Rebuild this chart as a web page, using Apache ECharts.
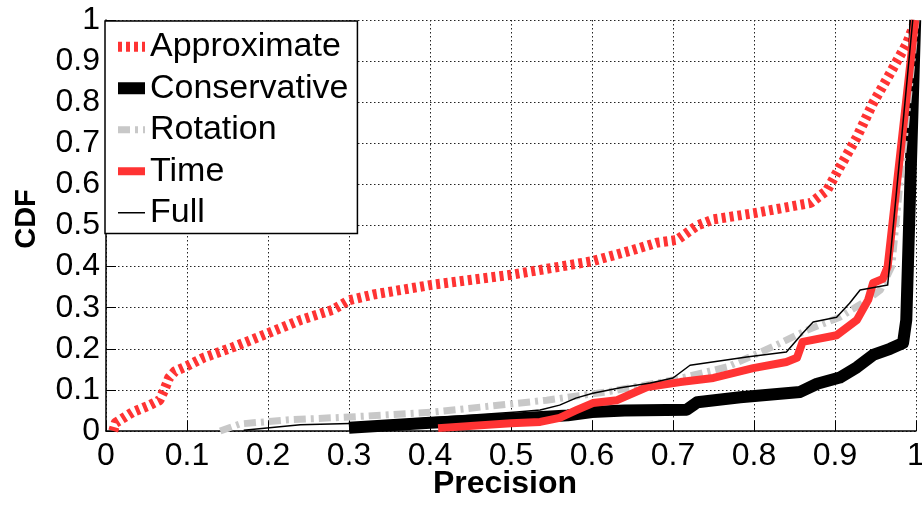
<!DOCTYPE html>
<html>
<head>
<meta charset="utf-8">
<script src="https://cdn.jsdelivr.net/npm/echarts@6/dist/echarts.min.js"></script>
<style>
  html, body { margin: 0; padding: 0; background: #fff; }
  #chart { width: 922px; height: 506px; }
</style>
</head>
<body>
<div id="chart"></div>
<script>
// [precision, cdf] pairs
var approximate = [[0.009, 0], [0.012, 0.02], [0.033, 0.046], [0.054, 0.063], [0.066, 0.075], [0.072, 0.1],
  [0.078, 0.13], [0.085, 0.145], [0.1, 0.158], [0.12, 0.178], [0.157, 0.204], [0.2, 0.238], [0.24, 0.27],
  [0.28, 0.295], [0.3, 0.318], [0.33, 0.332], [0.4, 0.355], [0.5, 0.38], [0.6, 0.413], [0.65, 0.44],
  [0.68, 0.458], [0.705, 0.465], [0.73, 0.5], [0.75, 0.515], [0.8, 0.53], [0.87, 0.555], [0.89, 0.585],
  [0.906, 0.642], [0.927, 0.715], [0.947, 0.798], [0.968, 0.87], [0.989, 0.944], [1, 1]];
var conservative = [[0.3, 0.008], [0.4, 0.02], [0.5, 0.03], [0.57, 0.038], [0.6, 0.046], [0.64, 0.05],
  [0.717, 0.052], [0.73, 0.07], [0.783, 0.082], [0.857, 0.095], [0.878, 0.115], [0.906, 0.13],
  [0.927, 0.155], [0.947, 0.185], [0.968, 0.2], [0.984, 0.214], [0.988, 0.27], [0.999, 1]];
var rotation = [[0.141, 0], [0.165, 0.017], [0.223, 0.027], [0.3, 0.034], [0.404, 0.046], [0.544, 0.075],
  [0.618, 0.095], [0.7, 0.124], [0.767, 0.156], [0.823, 0.205], [0.865, 0.245], [0.906, 0.277],
  [0.94, 0.319], [0.956, 0.343], [0.97, 0.4], [1, 1]];
var time = [[0.41, 0.007], [0.5, 0.019], [0.536, 0.022], [0.56, 0.032], [0.58, 0.05], [0.601, 0.068],
  [0.631, 0.075], [0.668, 0.107], [0.709, 0.119], [0.75, 0.129], [0.799, 0.153], [0.84, 0.168],
  [0.853, 0.178], [0.86, 0.217], [0.902, 0.233], [0.927, 0.27], [0.941, 0.319], [0.947, 0.36],
  [0.959, 0.37], [0.965, 0.4], [0.999, 1]];
var full = [[0.17, 0.002], [0.24, 0.015], [0.314, 0.019], [0.404, 0.032], [0.507, 0.046], [0.536, 0.051],
  [0.56, 0.063], [0.58, 0.08], [0.601, 0.092], [0.635, 0.105], [0.672, 0.117], [0.7, 0.129],
  [0.721, 0.16], [0.791, 0.18], [0.84, 0.192], [0.86, 0.238], [0.873, 0.265], [0.902, 0.277],
  [0.918, 0.311], [0.931, 0.343], [0.965, 0.355], [0.996, 1]];

var names = ['Approximate', 'Conservative', 'Rotation', 'Time', 'Full'];

var red = '#ff3333';
var styles = [
  { color: red, width: 10, type: [4, 4] },
  { color: '#000', width: 12, type: 'solid' },
  { color: '#c8c8c8', width: 7, type: [12, 5, 3, 5] },
  { color: red, width: 8, type: 'solid' },
  { color: '#000', width: 1.5, type: 'solid' }
];
var dataSets = [approximate, conservative, rotation, time, full];

var font = 'Liberation Sans, Arial, Helvetica, sans-serif';
var grid = { type: [1.5, 2.5], color: '#222', width: 1 };

var chart = echarts.init(document.getElementById('chart'));

var series = [];
var legendData = [];
for (var i = 0; i < names.length; i++) {
  series.push({
    name: names[i],
    type: 'line',
    data: dataSets[i],
    symbol: 'none',
    clip: false,
    z: 2 + i,
    lineStyle: {
      color: styles[i].color,
      width: styles[i].width,
      type: styles[i].type,
      cap: 'butt',
      join: 'round'
    },
    itemStyle: { color: styles[i].color },
    emphasis: { disabled: true }
  });
  legendData.push({
    name: names[i],
    itemStyle: { opacity: 0 },
    lineStyle: {
      color: styles[i].color,
      width: styles[i].width,
      type: styles[i].type,
      cap: 'butt'
    }
  });
}

var option = {
  backgroundColor: '#fff',
  animation: false,
  textStyle: { fontFamily: font },
  grid: { left: 106, right: 6, top: 20, bottom: 75, outerBoundsMode: 'none', containLabel: false },
  // axis titles
  graphic: [
    {
      type: 'text', x: 505, y: 484,
      style: { text: 'Precision', font: 'bold 32px ' + font, fill: '#000', align: 'center', verticalAlign: 'middle' }
    },
    {
      type: 'text', x: 27, y: 219, rotation: Math.PI / 2,
      style: { text: 'CDF', font: 'bold 29px ' + font, fill: '#000', align: 'center', verticalAlign: 'middle' }
    }
  ],
  legend: {
    orient: 'vertical',
    left: 105,
    top: 21,
    padding: [5, 9, 0, 7],
    itemGap: 0,
    itemWidth: 27,
    itemHeight: 12,
    backgroundColor: '#fff',
    borderColor: '#000',
    borderWidth: 1.5,
    borderRadius: 0,
    selectedMode: false,
    textStyle: { fontSize: 34, color: '#000', lineHeight: 41.5, fontFamily: font },
    data: legendData
  },
  xAxis: {
    type: 'value',
    min: 0,
    max: 1,
    interval: 0.1,
    axisLine: { lineStyle: { color: '#000', width: 1.5 } },
    axisTick: { inside: true, length: 10, lineStyle: { color: '#000', width: 1 } },
    axisLabel: { fontSize: 32, color: '#000', margin: 9 },
    splitLine: { show: true, lineStyle: grid }
  },
  yAxis: {
    type: 'value',
    min: 0,
    max: 1,
    interval: 0.1,
    axisLine: { show: true, lineStyle: { color: '#000', width: 1.5 } },
    axisTick: { show: true, inside: true, length: 10, lineStyle: { color: '#000', width: 1 } },
    axisLabel: { fontSize: 32, color: '#000', margin: 6 },
    splitLine: { show: true, lineStyle: grid }
  },
  series: series
};

chart.setOption(option);
</script>
</body>
</html>
